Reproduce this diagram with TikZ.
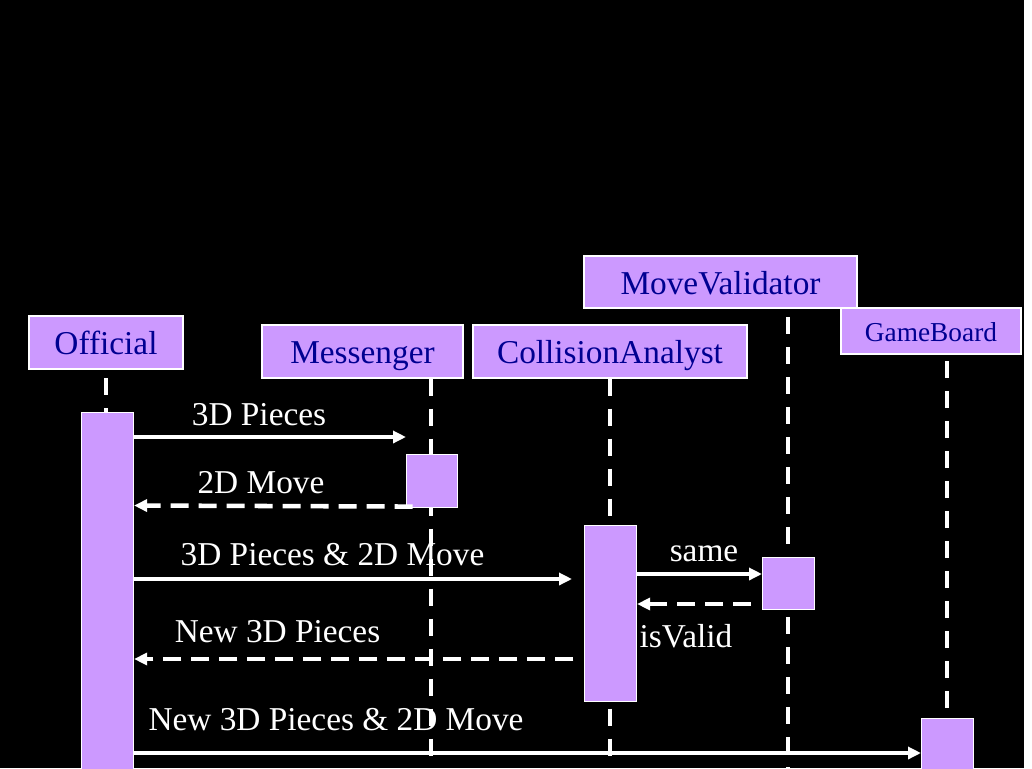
\documentclass[tikz,border=0pt]{standalone}
\usepackage{fontspec}
\setmainfont{Liberation Serif}
\usepackage{tikz}
\usetikzlibrary{arrows.meta}
\definecolor{SeqLilac}{RGB}{204, 153, 255}
\definecolor{SeqNavy}{RGB}{0, 0, 145}
\definecolor{SeqLine}{RGB}{255, 255, 255}

\tikzset{
  objbox/.style={draw=white, line width=0.8pt, fill=SeqLilac, text=SeqNavy, inner sep=0pt,
    font=\fontsize{25}{30}\selectfont, text height=22pt, text depth=4.75pt},
  actbox/.style={draw=white, line width=0.8pt, fill=SeqLilac, anchor=north west, inner sep=0pt},
  lifeline/.style={SeqLine, line width=3.2pt, dash pattern=on 12.75pt off 9.75pt},
  callmsg/.style={SeqLine, line width=2.6pt, -{Triangle[length=9.75pt, width=9pt]}},
  replymsg/.style={SeqLine, line width=3.4pt, dash pattern=on 13.5pt off 7.5pt,
    -{Triangle[length=9.75pt, width=9pt]}},
  msglabel/.style={text=white, anchor=base, inner sep=0pt, font=\fontsize{25}{30}\selectfont}
}

\begin{document}
\begin{tikzpicture}[x=0.75pt,y=-0.75pt]
  \useasboundingbox (0,0) rectangle (1032,768);
  \fill[white] (0,0) rectangle (1032,768);
  \fill[black] (0,0) rectangle (1024,768);

  % objects
  \node[objbox, minimum width=115.5pt, minimum height=39.75pt] (offHead) at (106,342.5) {Official};
  \node[objbox, minimum width=150.75pt, minimum height=39.75pt] (msgHead) at (362.5,351.5) {Messenger};
  \node[objbox, minimum width=205.5pt, minimum height=39.75pt] (caHead) at (610,351.5) {CollisionAnalyst};
  \node[objbox, minimum width=204.75pt, minimum height=39pt, text height=23pt, text depth=4.25pt]
    (mvHead) at (720.5,282) {MoveValidator};
  \node[objbox, minimum width=135pt, minimum height=34.5pt, font=\fontsize{20.5}{24}\selectfont,
    text height=18pt, text depth=3pt] (gbHead) at (931,331) {GameBoard};

  % lifelines
  \coordinate (msgEnd) at (431,775);
  \coordinate (caEnd) at (610,775);
  \coordinate (mvEnd) at (788,775);
  \coordinate (gbEnd) at (947,775);
  \draw[lifeline] (106,378) -- (106,412);
  \draw[lifeline] (msgHead.south -| msgEnd) -- (msgEnd);
  \draw[lifeline] (caHead.south) -- (caEnd);
  \draw[lifeline] (788,317) -- (mvEnd);
  \draw[lifeline] (947,361) -- (gbEnd);

  % activations
  \node[actbox, minimum width=39pt, minimum height=272.25pt] (offAct) at (81,412) {};
  \node[actbox, minimum width=38.25pt, minimum height=39.75pt] (msgAct) at (406,454) {};
  \node[actbox, minimum width=39pt, minimum height=132pt] (caAct) at (584,525) {};
  \node[actbox, minimum width=39pt, minimum height=39pt] (mvAct) at (762,557) {};
  \node[actbox, minimum width=39pt, minimum height=42.75pt] (gbAct) at (921,718) {};

  % messages
  \draw[callmsg] (offAct.east |- 0,437) -- (msgAct.west |- 0,437);
  \node[msglabel] (lblPieces) at (259,425) {3D Pieces};

  \draw[replymsg] ([xshift=5pt]msgAct.south west) ++(0,-1.5) -- (offAct.east |- 0,505.5);
  \node[msglabel] (lblMove) at (261,493) {2D Move};

  \draw[callmsg, shorten >=9pt] (offAct.east |- 0,579) -- (caAct.west |- 0,579);
  \node[msglabel] (lblBoth) at (332.5,565) {3D Pieces \& 2D Move};

  \draw[replymsg, shorten <=8pt] (caAct.west |- 0,659) -- (offAct.east |- 0,659);
  \node[msglabel] (lblNew) at (277.5,642) {New 3D Pieces};

  \draw[callmsg] (caAct.east |- 0,574) -- (mvAct.west |- 0,574);
  \node[msglabel] (lblSame) at (704,561) {same};

  \draw[replymsg, shorten <=8.25pt] (mvAct.west |- 0,604) -- (caAct.east |- 0,604);
  \node[msglabel] (lblValid) at (686,647) {isValid};

  \draw[callmsg] (offAct.east |- 0,753) -- (gbAct.west |- 0,753);
  \node[msglabel] (lblNewBoth) at (336,730) {New 3D Pieces \& 2D Move};
\end{tikzpicture}
\end{document}
